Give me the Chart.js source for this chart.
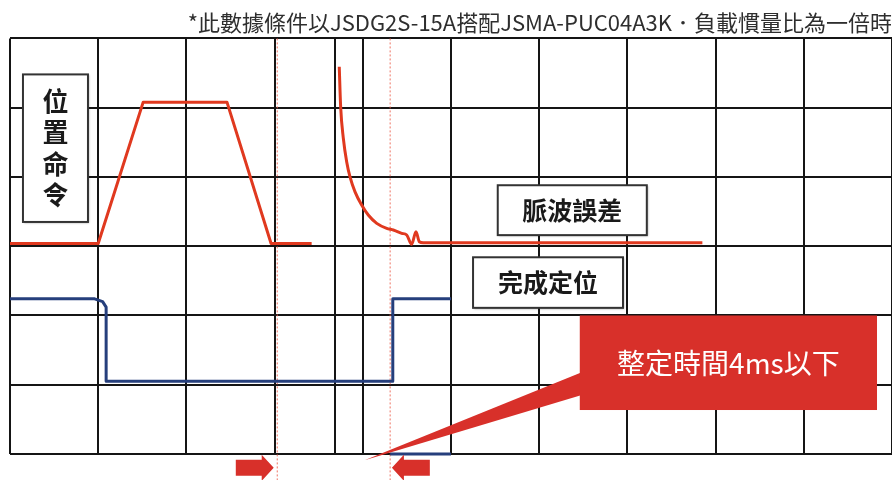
<!DOCTYPE html>
<html>
<head>
<meta charset="utf-8">
<script src="https://cdn.jsdelivr.net/npm/chart.js@4.4.1/dist/chart.umd.min.js"></script>
<style>
  html, body { margin: 0; padding: 0; background: #fff; overflow: hidden; }
  #wrap { width: 892px; height: 480px; }
</style>
</head>
<body>
<div id="wrap"><canvas id="chart"></canvas></div>
<script>
// one unit = one square of the scope screen
const xTicks = [0, 1, 2, 3, 3.68, 4, 5, 6, 7, 8, 9, 10];
const yTicks = [0, 1, 2, 3, 4, 5, 6];

// 位置命令 (red, straight segments)
const cmdX = [0, 1.0, 1.51, 2.46, 2.96, 3.42];
const cmdY = [3.04, 3.04, 5.08, 5.08, 3.04, 3.04];

// 脈波誤差 (red, smooth decay)
const errX = [3.733, 3.749, 3.779, 3.817, 3.855, 3.912, 3.987, 4.062, 4.158, 4.271, 4.346, 4.441, 4.498, 4.554, 4.603, 4.641, 4.686, 7.85];
const errY = [5.59, 5.01, 4.56, 4.22, 4.00, 3.785, 3.594, 3.45, 3.33, 3.258, 3.234, 3.186, 3.162, 3.027, 3.209, 3.065, 3.05, 3.05];

// 完成定位 (blue)
const readyX = [0, 0.96, 1.05, 1.09, 1.09, 4.34, 4.34, 5.0];
const readyY = [2.24, 2.24, 2.20, 2.12, 1.05, 1.05, 2.24, 2.24];
const readyLowX = [4.31, 5.0];
const readyLowY = [0, 0];

// settling window markers
const markX = [3.03, 4.31];

const pts = (xs, ys) => xs.map((x, i) => ({ x: x, y: ys[i] }));

const labelBoxes = [
  { text: '位置命令', x0: 0.147, x1: 0.884, y0: 5.48, y1: 3.35, vertical: true, size: 26 },
  { text: '脈波誤差', x0: 5.53, x1: 7.22, y0: 3.88, y1: 3.16, size: 25 },
  { text: '完成定位', x0: 5.25, x1: 6.95, y0: 2.84, y1: 2.11, size: 25 },
];
const callout = { text: '整定時間4ms以下', x0: 6.46, x1: 9.83, y0: 2.0, y1: 0.635, tailY0: 1.18, tailY1: 0.85, tipX: 4.02, tipY: -0.09 };
const arrows = [
  { tip: 2.99, tail: 2.56, y: -0.2 },
  { tip: 4.33, tail: 4.76, y: -0.2 },
];

const RED = '#e0391f';
const BLUE = '#263f7c';
const CALLOUT = '#d8302a';

const annot = {
  id: 'annot',
  afterDatasetsDraw(chart) {
    const { ctx, scales: { x, y } } = chart;
    ctx.save();

    // label boxes
    labelBoxes.forEach(b => {
      const l = x.getPixelForValue(b.x0), r = x.getPixelForValue(b.x1);
      const t = y.getPixelForValue(b.y0), btm = y.getPixelForValue(b.y1);
      ctx.save();
      ctx.shadowColor = 'rgba(0,0,0,0.35)';
      ctx.shadowBlur = 2;
      ctx.shadowOffsetX = 1;
      ctx.shadowOffsetY = 1;
      ctx.fillStyle = '#fff';
      ctx.fillRect(l, t, r - l, btm - t);
      ctx.restore();
      ctx.strokeStyle = '#333';
      ctx.lineWidth = 2;
      ctx.strokeRect(l, t, r - l, btm - t);
      ctx.fillStyle = '#1a1a1a';
      ctx.font = 'bold ' + b.size + 'px "Noto Sans CJK TC"';
      ctx.textAlign = 'center';
      ctx.textBaseline = 'middle';
      const cx = (l + r) / 2, cy = (t + btm) / 2;
      if (b.vertical) {
        const chars = [...b.text];
        const step = 31.5;
        chars.forEach((c, i) => {
          ctx.fillText(c, cx, cy + (i - (chars.length - 1) / 2) * step);
        });
      } else {
        ctx.fillText(b.text, cx, cy);
      }
    });

    // callout with tail
    const cl = x.getPixelForValue(callout.x0), cr = x.getPixelForValue(callout.x1);
    const ct = y.getPixelForValue(callout.y0), cb = y.getPixelForValue(callout.y1);
    ctx.fillStyle = CALLOUT;
    ctx.beginPath();
    ctx.moveTo(cl + 2, y.getPixelForValue(callout.tailY0));
    ctx.lineTo(x.getPixelForValue(callout.tipX), y.getPixelForValue(callout.tipY));
    ctx.lineTo(cl + 2, y.getPixelForValue(callout.tailY1));
    ctx.closePath();
    ctx.fill();
    ctx.fillRect(cl, ct, cr - cl, cb - ct);
    ctx.fillStyle = '#fff';
    ctx.font = '28px "Noto Sans CJK TC"';
    ctx.textAlign = 'center';
    ctx.textBaseline = 'middle';
    ctx.fillText(callout.text, (cl + cr) / 2, (ct + cb) / 2 + 1);

    // arrows under the axis
    ctx.fillStyle = CALLOUT;
    arrows.forEach(a => {
      const tip = x.getPixelForValue(a.tip), tail = x.getPixelForValue(a.tail);
      const cy = y.getPixelForValue(a.y);
      const dir = tip > tail ? 1 : -1;
      const neck = tip - dir * 12;
      ctx.beginPath();
      ctx.moveTo(tail, cy - 8);
      ctx.lineTo(neck, cy - 8);
      ctx.lineTo(neck, cy - 13);
      ctx.lineTo(tip, cy);
      ctx.lineTo(neck, cy + 13);
      ctx.lineTo(neck, cy + 8);
      ctx.lineTo(tail, cy + 8);
      ctx.closePath();
      ctx.fill();
    });
    ctx.restore();
  }
};

const lineBase = { pointRadius: 0, borderWidth: 3, fill: false, borderJoinStyle: 'round' };

const datasets = [
  Object.assign({}, lineBase, { label: '位置命令', data: pts(cmdX, cmdY), borderColor: RED, tension: 0 }),
  Object.assign({}, lineBase, { label: '脈波誤差', data: pts(errX, errY), borderColor: RED, cubicInterpolationMode: 'monotone' }),
  Object.assign({}, lineBase, { label: '完成定位', data: pts(readyX, readyY), borderColor: BLUE, tension: 0 }),
  Object.assign({}, lineBase, { label: '完成定位2', data: pts(readyLowX, readyLowY), borderColor: BLUE, clip: false }),
];
markX.forEach(m => {
  datasets.unshift({
    label: 'mark', data: [{ x: m, y: 6 }, { x: m, y: -0.4 }],
    borderColor: 'rgba(235, 90, 70, 0.85)', borderWidth: 1, borderDash: [2, 2],
    pointRadius: 0, clip: false, order: 5
  });
});

new Chart(document.getElementById('chart').getContext('2d'), {
  type: 'line',
  data: { datasets: datasets },
  plugins: [annot],
  options: {
    responsive: true,
    maintainAspectRatio: false,
    animation: false,
    layout: { padding: { left: 10, right: 0, top: 0, bottom: 26 } },
    plugins: {
      legend: { display: false },
      tooltip: { enabled: false },
      title: {
        display: true,
        text: '*此數據條件以JSDG2S-15A搭配JSMA-PUC04A3K．負載慣量比為一倍時',
        align: 'end',
        color: '#2e2e2e',
        font: { family: '"Noto Sans CJK TC"', size: 22, weight: 'normal', lineHeight: 1.2 },
        padding: { top: 9, bottom: 3 }
      }
    },
    scales: {
      x: {
        type: 'linear', min: 0, max: 10,
        afterBuildTicks: axis => { axis.ticks = xTicks.map(v => ({ value: v })); },
        ticks: { display: false },
        grid: { color: '#151515', lineWidth: 2, drawTicks: false },
        border: { display: false }
      },
      y: {
        type: 'linear', min: 0, max: 6,
        afterBuildTicks: axis => { axis.ticks = yTicks.map(v => ({ value: v })); },
        ticks: { display: false },
        grid: { color: '#151515', lineWidth: 2, drawTicks: false },
        border: { display: false }
      }
    }
  }
});
</script>
</body>
</html>
